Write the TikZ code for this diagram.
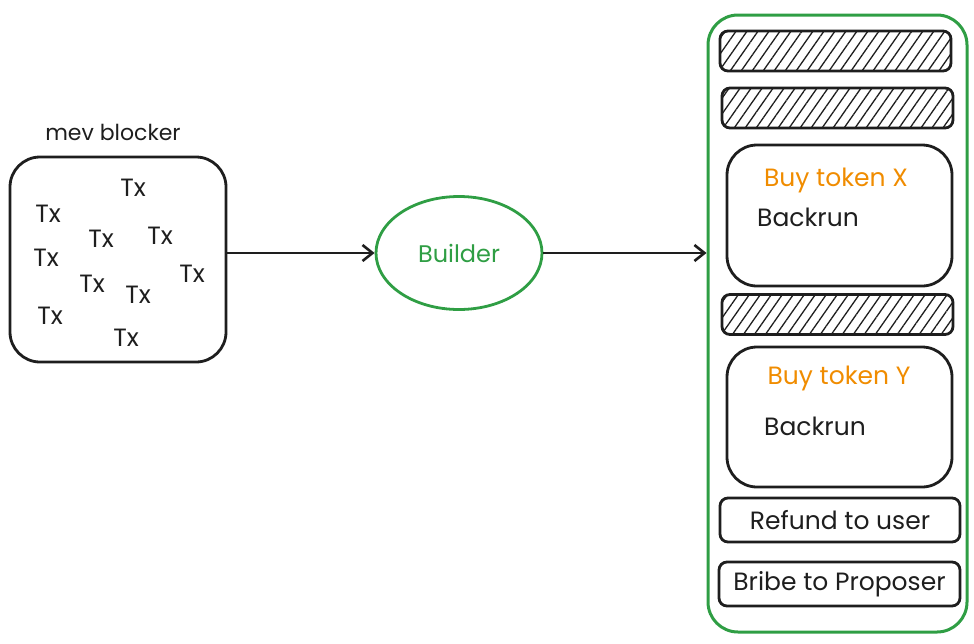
\documentclass[tikz,border=0pt]{standalone}
\usepackage{fontspec}
\setmainfont{Poppins}
\usepackage{tikz}
\usetikzlibrary{shapes.geometric, arrows.meta, positioning, calc, patterns.meta}
\definecolor{exgreen}{RGB}{47, 158, 68}
\definecolor{exorange}{RGB}{240, 140, 0}
\definecolor{exink}{RGB}{30, 30, 30}

\begin{document}
\begin{tikzpicture}[x=1pt, y=-1pt,
    sketch/.style={draw=exink, line width=2.8pt, rounded corners=#1},
    sketch/.default=12pt,
    hatchbar/.style={sketch=8pt, minimum width=231pt, minimum height=40pt,
      pattern={Lines[angle=55, distance=9pt, line width=1.3pt]}, pattern color=exink},
    txlabel/.style={font=\fontsize{25}{28}\selectfont, text=exink, inner sep=0pt},
    label/.style={font=\fontsize{25}{30}\selectfont, text=exink, inner sep=0pt},
    flow/.style={draw=exink, line width=2.6pt, -{Straight Barb[length=10pt, width=16pt, line width=2.6pt]}}]
  \useasboundingbox (0,0) rectangle (974,643);

  \node[sketch=30pt, minimum width=216pt, minimum height=205pt] (mev) at (118,259.5) {};
  \node[label, font=\fontsize{22}{26}\selectfont] (mevname) at (113,132) {mev blocker};
  \foreach \x/\y [count=\i] in {133/188, 48/214, 101/239, 160/236, 46/258,
      92/284, 138/295, 192/274, 50/316, 126/338}
    \node[txlabel] (tx\i) at (\x,\y) {Tx};

  \node[ellipse, draw=exgreen, line width=2.8pt, minimum width=166pt, minimum height=113pt,
    inner sep=0pt, text=exgreen, font=\fontsize{24}{28}\selectfont] (builder) at (459,253) {Builder};

  \node[draw=exgreen, line width=3pt, rounded corners=30pt,
    minimum width=259pt, minimum height=617pt] (block) at (837.5,323.5) {};

  \node[hatchbar] (bar1) at (835.5,51) {};
  \node[hatchbar] (bar2) at (837.5,108) {};
  \node[sketch=30pt, minimum width=225pt, minimum height=141pt] (buyx) at (839.5,215.5) {};
  \node[label, text=exorange] (buyxname) at (836,180) {Buy token X};
  \node[label] (backrunx) at (808,217) {Backrun};
  \node[hatchbar] (bar3) at (837.5,314.5) {};
  \node[sketch=30pt, minimum width=225pt, minimum height=140pt] (buyy) at (839.5,417) {};
  \node[label, text=exorange] (buyyname) at (839,378) {Buy token Y};
  \node[label] (backruny) at (815,426) {Backrun};
  \node[sketch=8pt, minimum width=240pt, minimum height=44pt, label] (refund) at (840,520) {Refund to user};
  \node[sketch=8pt, minimum width=241pt, minimum height=44pt, label] (bribe) at (839.5,584) {Bribe to Proposer};

  \draw[flow] (mev.east |- builder.west) -- (builder.west);
  \draw[flow] (builder.east) -- (builder.east -| block.west);
\end{tikzpicture}
\end{document}
